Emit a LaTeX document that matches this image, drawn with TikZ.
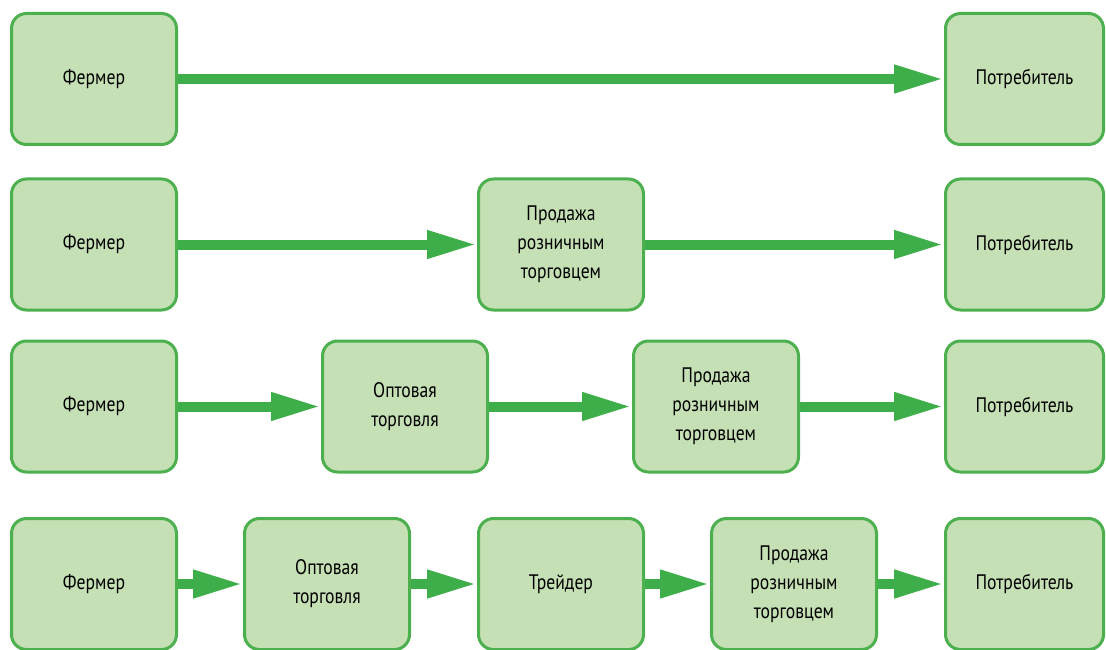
\documentclass[tikz,border=0pt]{standalone}
\usepackage{fontspec}
\setmainfont{PT Sans}[FakeStretch=0.84]
\usetikzlibrary{arrows.meta}
\definecolor{boxfill}{HTML}{C5E0B4}
\definecolor{boxline}{HTML}{4DB04F}
\definecolor{flow}{HTML}{3DAE49}

\begin{document}
\begin{tikzpicture}[x=1pt,y=-1pt,
  stage/.style={draw=boxline,fill=boxfill,line width=3pt,rounded corners=15pt,
    minimum width=165pt,minimum height=131pt,inner sep=0pt,align=center,
    font=\fontsize{21}{29}\selectfont},
  last/.style={stage,minimum width=158pt},
  flowarrow/.style={draw=flow,line width=10pt,-{Triangle[length=50pt,width=26pt]}}]
  \useasboundingbox (0,0) rectangle (1106,650);
  % direct
  \node[stage] (f1) at (94,79) {Фермер};
  \node[last] (c1) at (1024.5,79) {Потребитель};
  \draw[flowarrow] (f1) -- (c1);
  % retail
  \node[stage] (f2) at (94,244.5) {Фермер};
  \node[stage] (r2) at (561,244.5) {Продажа\\розничным\\торговцем};
  \node[last] (c2) at (1024.5,244.5) {Потребитель};
  \draw[flowarrow] (f2) -- (r2);
  \draw[flowarrow] (r2) -- (c2);
  % wholesale
  \node[stage] (f3) at (94,406.5) {Фермер};
  \node[stage] (w3) at (405,406.5) {Оптовая\\торговля};
  \node[stage] (r3) at (716,406.5) {Продажа\\розничным\\торговцем};
  \node[last] (c3) at (1024.5,406.5) {Потребитель};
  \draw[flowarrow] (f3) -- (w3);
  \draw[flowarrow] (w3) -- (r3);
  \draw[flowarrow] (r3) -- (c3);
  % trader
  \node[stage] (f4) at (94,584) {Фермер};
  \node[stage] (w4) at (327,584) {Оптовая\\торговля};
  \node[stage] (t4) at (561,584) {Трейдер};
  \node[stage] (r4) at (794,584) {Продажа\\розничным\\торговцем};
  \node[last] (c4) at (1024.5,584) {Потребитель};
  \draw[flowarrow] (f4) -- (w4);
  \draw[flowarrow] (w4) -- (t4);
  \draw[flowarrow] (t4) -- (r4);
  \draw[flowarrow] (r4) -- (c4);
\end{tikzpicture}
\end{document}
